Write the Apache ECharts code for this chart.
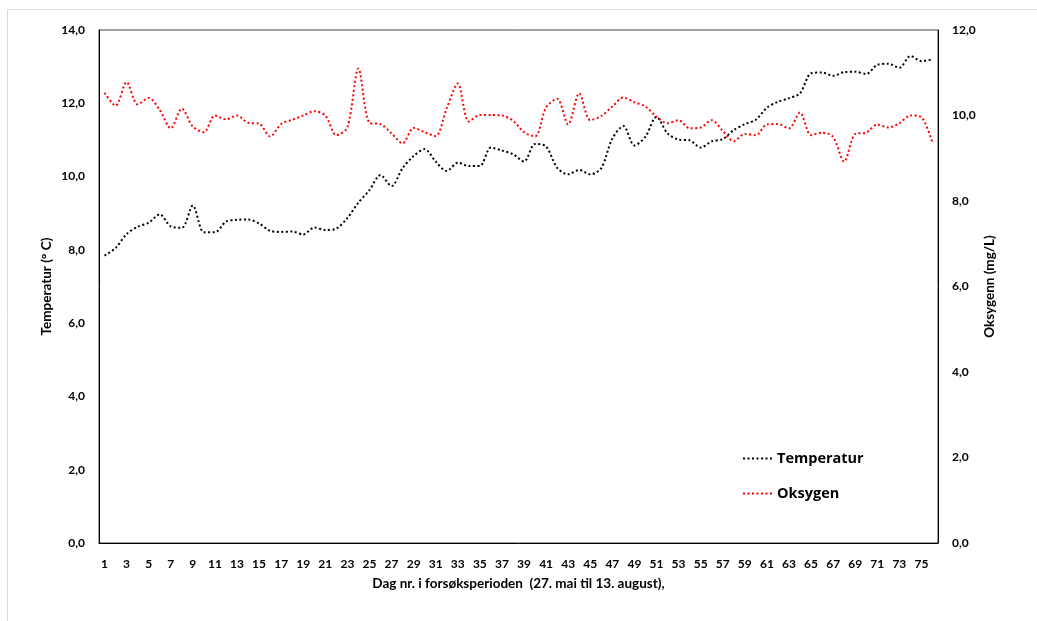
<!DOCTYPE html>
<html>
<head>
<meta charset="utf-8">
<script src="https://cdn.jsdelivr.net/npm/echarts@6/dist/echarts.min.js"></script>
<style>
html,body{margin:0;padding:0;background:#fff;}
#chart{width:1037px;height:621px;}
</style>
</head>
<body>
<div id="chart"></div>
<script>
const days = ['1','2','3','4','5','6','7','8','9','10','11','12','13','14','15','16','17','18','19','20',
  '21','22','23','24','25','26','27','28','29','30','31','32','33','34','35','36','37','38','39','40',
  '41','42','43','44','45','46','47','48','49','50','51','52','53','54','55','56','57','58','59','60',
  '61','62','63','64','65','66','67','68','69','70','71','72','73','74','75','76'];

const temperatur = [7.84,8.05,8.43,8.63,8.74,8.97,8.64,8.60,9.21,8.48,
  8.48,8.77,8.82,8.83,8.72,8.52,8.49,8.50,8.42,8.61,
  8.54,8.58,8.87,9.29,9.63,10.04,9.74,10.23,10.56,10.75,
  10.41,10.15,10.38,10.29,10.29,10.79,10.71,10.61,10.41,10.89,
  10.82,10.24,10.06,10.18,10.06,10.23,11.04,11.38,10.85,11.09,
  11.63,11.18,11.01,10.99,10.79,10.96,11.02,11.27,11.43,11.55,
  11.88,12.04,12.14,12.27,12.82,12.84,12.75,12.85,12.86,12.80,
  13.05,13.08,12.97,13.29,13.15,13.20];

const oksygen = [10.53,10.23,10.78,10.26,10.41,10.13,9.70,10.16,9.74,9.61,
  10.00,9.91,10.00,9.83,9.81,9.51,9.80,9.90,10.00,10.10,
  10.00,9.54,9.72,11.10,9.83,9.80,9.58,9.35,9.71,9.61,
  9.52,10.17,10.75,9.86,10.01,10.01,10.00,9.88,9.61,9.51,
  10.19,10.39,9.79,10.52,9.89,9.99,10.21,10.42,10.31,10.21,
  9.97,9.82,9.89,9.70,9.72,9.89,9.64,9.40,9.57,9.54,
  9.79,9.80,9.70,10.07,9.54,9.60,9.50,8.92,9.57,9.60,
  9.79,9.72,9.82,10.00,9.96,9.36];

const FONT = 'Lato, "Liberation Sans", sans-serif';
const fmt = v => v.toFixed(1).replace('.', ',');
const titleStyle = {fontFamily: FONT, fontWeight: 'bold', fontSize: 13.5, color: '#000'};
const tickStyle = {fontFamily: FONT, fontWeight: 'bold', fontSize: 12, color: '#000'};

const chart = echarts.init(document.getElementById('chart'), null, {renderer: 'canvas'});
chart.setOption({
  animation: false,
  backgroundColor: '#fff',
  graphic: [{
    type: 'rect', silent: true, z: -10,
    shape: {x: 7.5, y: 9.5, width: 1100, height: 700},
    style: {fill: 'none', stroke: '#d9d9d9', lineWidth: 1}
  }],
  grid: {left: 99, right: 99, top: 30, bottom: 78, show: true, borderColor: '#404040', borderWidth: 1},
  legend: {
    orient: 'vertical', left: 742, top: 451, padding: 0, itemGap: 20, itemWidth: 29, itemHeight: 14,
    itemStyle: {opacity: 0},
    textStyle: {fontFamily: '"Open Sans", sans-serif', fontWeight: 'bold', fontSize: 14.5, color: '#000'},
    data: ['Temperatur', 'Oksygen']
  },
  xAxis: {
    type: 'category', data: days, boundaryGap: true,
    name: 'Dag nr. i forsøksperioden  (27. mai til 13. august),',
    nameLocation: 'middle', nameGap: 34,
    nameTextStyle: titleStyle,
    axisLine: {lineStyle: {color: '#000', width: 1}},
    axisTick: {show: false},
    axisLabel: Object.assign({interval: 1, margin: 15}, tickStyle),
    splitLine: {show: false}
  },
  yAxis: [{
    type: 'value', min: 0, max: 14, interval: 2, position: 'left',
    name: 'Temperatur (° C)', nameLocation: 'middle', nameGap: 45, nameMoveOverlap: false,
    nameTextStyle: titleStyle,
    axisLine: {show: true, lineStyle: {color: '#000', width: 1}},
    axisTick: {show: false},
    axisLabel: Object.assign({formatter: fmt, margin: 14}, tickStyle),
    splitLine: {show: false}
  }, {
    type: 'value', min: 0, max: 12, interval: 2, position: 'right',
    name: 'Oksygenn (mg/L)', nameLocation: 'middle', nameGap: 45, nameMoveOverlap: false,
    nameTextStyle: titleStyle,
    axisLine: {show: true, lineStyle: {color: '#000', width: 1}},
    axisTick: {show: false},
    axisLabel: Object.assign({formatter: fmt, margin: 14}, tickStyle),
    splitLine: {show: false}
  }],
  series: [{
    name: 'Temperatur', type: 'line', yAxisIndex: 0, data: temperatur,
    symbol: 'none', smooth: 0.3,
    lineStyle: {color: '#000', width: 2, type: [2, 2.5]},
    itemStyle: {color: '#000'}
  }, {
    name: 'Oksygen', type: 'line', yAxisIndex: 1, data: oksygen,
    symbol: 'none', smooth: 0.3,
    lineStyle: {color: '#ff0000', width: 2, type: [2, 2.5]},
    itemStyle: {color: '#ff0000'}
  }]
});
</script>
</body>
</html>
